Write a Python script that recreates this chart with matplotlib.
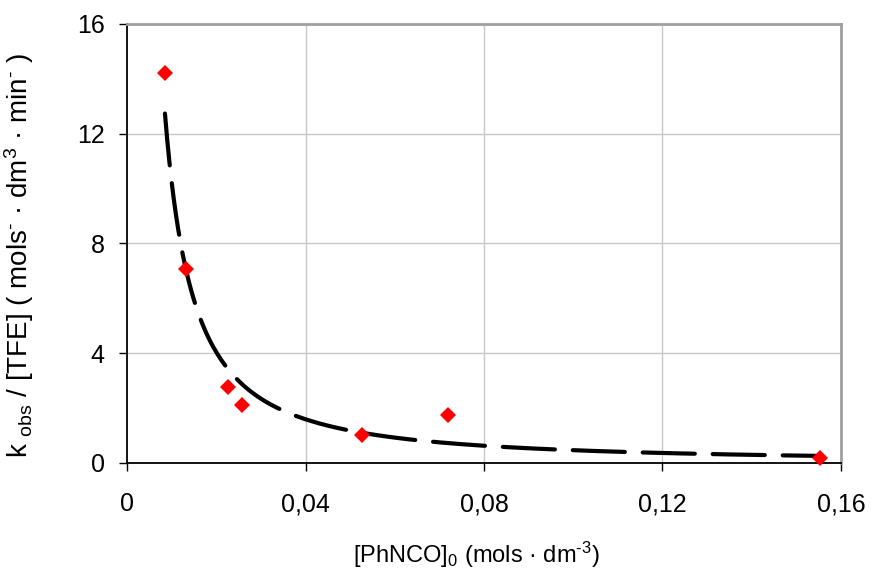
import numpy as np
import matplotlib
matplotlib.use("Agg")
import matplotlib.pyplot as plt

plt.rcParams["font.family"] = ["Liberation Sans", "DejaVu Sans"]
plt.rcParams["mathtext.fontset"] = "custom"
plt.rcParams["mathtext.rm"] = "Liberation Sans"
plt.rcParams["mathtext.it"] = "Liberation Sans"
plt.rcParams["mathtext.default"] = "regular"

# --- Data ---
phnco = [0.0085, 0.0132, 0.0226, 0.0258, 0.0527, 0.0719, 0.1553]
k_tfe = [14.2, 7.07, 2.77, 2.11, 1.02, 1.75, 0.18]

# power-law trendline y = A * x**B
fit_a = 0.0212
fit_b = -1.342

x_ticks = [0, 0.04, 0.08, 0.12, 0.16]
x_tick_labels = ["0", "0,04", "0,08", "0,12", "0,16"]
y_ticks = [0, 4, 8, 12, 16]

fig = plt.figure(figsize=(8.73, 5.75), dpi=100)
ax = fig.add_axes([0.1455, 0.1948, 0.8178, 0.7635])

# grid
for xv in x_ticks[1:]:
    ax.axvline(xv, color="#c8c8c8", lw=1.0, zorder=0)
for yv in y_ticks[1:]:
    ax.axhline(yv, color="#c8c8c8", lw=1.0, zorder=0)

# trendline
xf = np.linspace(min(phnco), max(phnco), 300)
yf = fit_a * xf ** fit_b
ax.plot(xf, yf, color="black", lw=3.0, dashes=(12.5, 4.3),
        dash_capstyle="round", zorder=2)

# data
ax.plot(phnco, k_tfe, linestyle="none", marker="D", markersize=8,
        color="#ff0000", markeredgewidth=0, zorder=3, clip_on=False)

ax.set_xlim(0, 0.16)
ax.set_ylim(0, 16)
ax.set_xticks(x_ticks)
ax.set_xticklabels(x_tick_labels)
ax.set_yticks(y_ticks)

for side in ["top", "right"]:
    ax.spines[side].set_color("#a0a0a0")
    ax.spines[side].set_linewidth(2.0)
for side in ["left", "bottom"]:
    ax.spines[side].set_color("black")
    ax.spines[side].set_linewidth(1.3)

ax.tick_params(axis="both", direction="out", length=6, width=1.0,
               labelsize=18, colors="black")
ax.tick_params(axis="x", pad=15)
ax.tick_params(axis="y", pad=10)

hy = "\u2010"
fig.text(352 / 873 + 249 / 873 / 2, 1 - 555 / 575,
         "[PhNCO]$_0$ (mols · dm$^{" + hy + "3}$)",
         fontsize=17, ha="center", va="center")
fig.text(19 / 873, 1 - 256 / 575,
         "k $_{obs}$ / [TFE] ( mols$^{" + hy + "}$ · dm$^{3}$ · min$^{" + hy + "}$ )",
         fontsize=20, ha="center", va="center", rotation=90)

fig.savefig("out.png", dpi=100)
